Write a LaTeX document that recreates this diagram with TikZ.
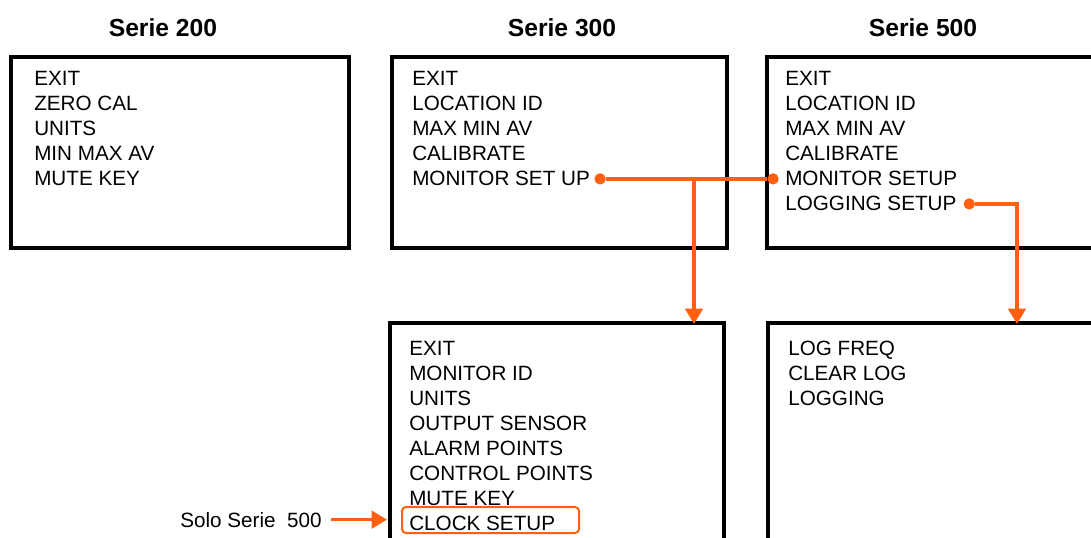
\documentclass[tikz,border=0pt]{standalone}
\usepackage{fontspec}
\setmainfont{Liberation Sans}
\usetikzlibrary{arrows.meta,positioning}
\definecolor{menuorange}{RGB}{255,95,15}

\begin{document}
\begin{tikzpicture}[yscale=-1, x=0.75pt, y=0.75pt,
    menubox/.style={draw, line width=2.6pt},
    title/.style={anchor=base, inner sep=0pt, font=\fontsize{18.5}{22}\selectfont\bfseries},
    item/.style={anchor=base west, inner sep=0pt, font=\fontsize{15.5}{18}\selectfont},
    dot/.style={circle, fill=menuorange, inner sep=0pt, minimum size=8.5pt},
    link/.style={draw=menuorange, line width=2.7pt},
    tip/.style={-{Triangle[length=11.5pt, width=13pt]}},
    hilite/.style={draw=menuorange, line width=1.5pt, rounded corners=3pt}]
    \useasboundingbox (0,0) rectangle (1091,538) ;

    % series headings
    \node [title] (t200) at (163,37) {Serie 200} ;
    \node [title] (t300) at (562,37) {Serie 300} ;
    \node [title] (t500) at (923,37) {Serie 500} ;

    % top menus
    \draw [menubox] (11,57) rectangle (349,248) ;
    \foreach \txt [count=\i] in {EXIT, ZERO CAL, UNITS, MIN MAX AV, MUTE KEY}
        \node [item] (a\i) at (34,61+25*\i) {\txt} ;

    \draw [menubox] (392,57) rectangle (727,248) ;
    \foreach \txt [count=\i] in {EXIT, LOCATION ID, MAX MIN AV, CALIBRATE, MONITOR SET UP}
        \node [item] (b\i) at (412,61+25*\i) {\txt} ;

    \draw [menubox] (767,57) rectangle (1110,248) ;
    \foreach \txt [count=\i] in {EXIT, LOCATION ID, MAX MIN AV, CALIBRATE, MONITOR SETUP, LOGGING SETUP}
        \node [item] (c\i) at (785,61+25*\i) {\txt} ;

    % sub menus
    \draw [menubox] (390,323) rectangle (724,570) ;
    \foreach \txt [count=\i] in {EXIT, MONITOR ID, UNITS, OUTPUT SENSOR, ALARM POINTS, CONTROL POINTS, MUTE KEY, CLOCK SETUP}
        \node [item] (e\i) at (409,330+25*\i) {\txt} ;
    \node [hilite, minimum width=132.75pt, minimum height=19.5pt] (clk) at (490.5,520) {} ;

    \draw [menubox] (768,323) rectangle (1110,570) ;
    \foreach \txt [count=\i] in {LOG FREQ, CLEAR LOG, LOGGING}
        \node [item] (f\i) at (788,330+25*\i) {\txt} ;

    % links
    \coordinate (t1) at (694,324) ;
    \coordinate (t2) at (1017,324) ;
    \node [dot, right=3pt of b5] (d1) {} ;
    \node [dot, left=4.5pt of c5] (d2) {} ;
    \node [dot, right=5pt of c6] (d3) {} ;
    \draw [link] (d1) -- (d2) ;
    \draw [link, tip] (t1 |- d1) -- (t1) ;
    \draw [link, tip] (d3) -| (t2) ;

    \node [item] (solo) at (180,527) {Solo Serie\ \ 500} ;
    \draw [link, tip, shorten <=6.75pt, shorten >=10.5pt] (solo.east) -- (clk.west |- solo.east) ;
\end{tikzpicture}
\end{document}
